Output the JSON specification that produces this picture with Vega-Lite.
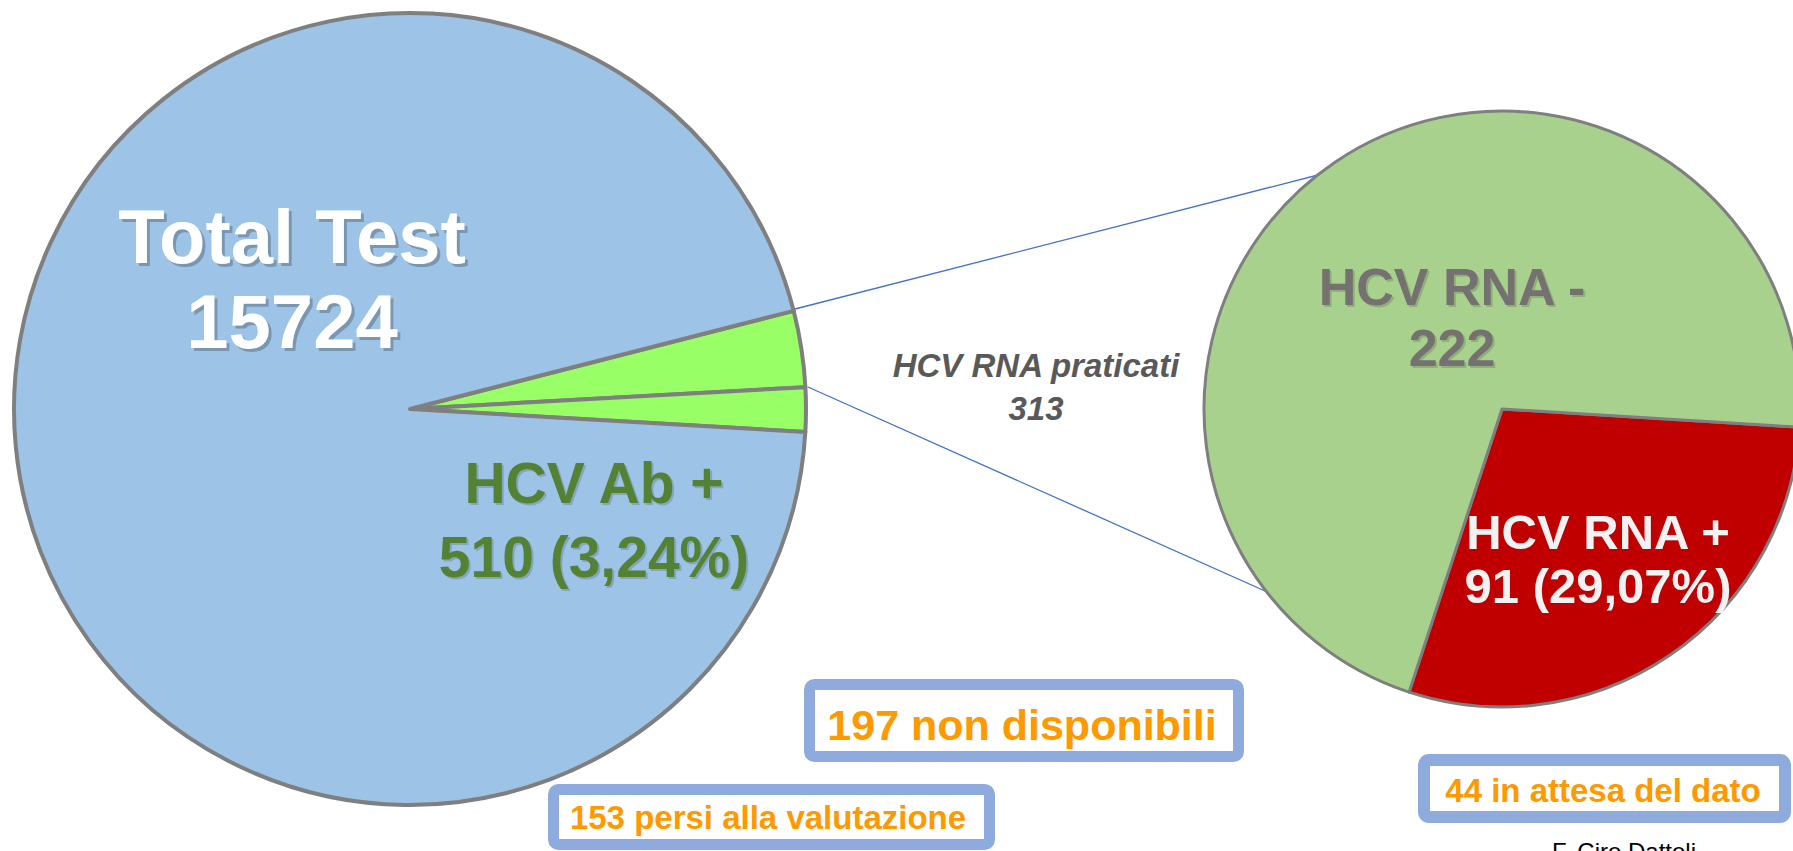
{
  "$schema": "https://vega.github.io/schema/vega-lite/v6.json",
  "width": 1793,
  "height": 851,
  "autosize": {"type": "fit", "contains": "padding"},
  "padding": 0,
  "background": "white",
  "config": {"view": {"stroke": null}, "axis": {"disable": true}, "text": {"font": "Liberation Sans", "fontWeight": "bold"}},
  "datasets": {
    "screening": [
      {"slice": "HCV RNA praticati", "count": 313, "share": 3.11, "k": 1},
      {"slice": "Non disponibili", "count": 197, "share": 1.8, "k": 2},
      {"slice": "HCV Ab -", "count": 15214, "share": 95.09, "k": 3}
    ],
    "rna": [
      {"slice": "HCV RNA +", "count": 91, "k": 1},
      {"slice": "HCV RNA -", "count": 222, "k": 2}
    ],
    "one": [{}]
  },
  "resolve": {"scale": {"theta": "independent"}},
  "layer": [
    {
      "data": {"name": "one"},
      "mark": {"type": "rule", "color": "#4472C4", "strokeWidth": 1.3},
      "encoding": {
        "x": {"datum": 795, "type": "quantitative", "scale": {"domain": [0, 1793], "nice": false, "zero": false}, "axis": null},
        "y": {"datum": 309, "type": "quantitative", "scale": {"domain": [0, 851], "nice": false, "zero": false, "reverse": true}, "axis": null},
        "x2": {"datum": 1318},
        "y2": {"datum": 175}
      }
    },
    {
      "data": {"name": "one"},
      "mark": {"type": "rule", "color": "#4472C4", "strokeWidth": 1.3},
      "encoding": {
        "x": {"datum": 808, "type": "quantitative"},
        "y": {"datum": 387, "type": "quantitative"},
        "x2": {"datum": 1274},
        "y2": {"datum": 595}
      }
    },
    {
      "data": {"name": "screening"},
      "mark": {"type": "arc", "outerRadius": 396, "stroke": "#7F7F7F", "strokeWidth": 4, "strokeJoin": "round", "clip": true},
      "encoding": {
        "x": {"datum": 410, "type": "quantitative"},
        "y": {"datum": 409, "type": "quantitative"},
        "theta": {"field": "share", "type": "quantitative", "stack": true, "scale": {"range": [1.3203, 7.6035]}},
        "order": {"field": "k", "type": "quantitative"},
        "color": {
          "field": "slice", "type": "nominal", "legend": null,
          "scale": {
            "domain": ["HCV RNA praticati", "Non disponibili", "HCV Ab -", "HCV RNA +", "HCV RNA -"],
            "range": ["#99FF66", "#99FF66", "#9DC3E6", "#C00000", "#A9D18E"]
          }
        }
      }
    },
    {
      "data": {"name": "rna"},
      "mark": {"type": "arc", "outerRadius": 298, "stroke": "#7F7F7F", "strokeWidth": 3, "strokeJoin": "round", "clip": true},
      "encoding": {
        "x": {"datum": 1502, "type": "quantitative"},
        "y": {"datum": 409, "type": "quantitative"},
        "theta": {"field": "count", "type": "quantitative", "stack": true, "scale": {"range": [1.632, 7.9152]}},
        "order": {"field": "k", "type": "quantitative"},
        "color": {"field": "slice", "type": "nominal", "legend": null}
      }
    },
    {
      "data": {"name": "one"},
      "mark": {"type": "rect", "fill": "white", "stroke": "#8FAADC", "strokeWidth": 11, "cornerRadius": 5, "clip": true},
      "encoding": {
        "x": {"datum": 809.5, "type": "quantitative"},
        "x2": {"datum": 1238.5},
        "y": {"datum": 684.5, "type": "quantitative"},
        "y2": {"datum": 756.5}
      }
    },
    {
      "data": {"name": "one"},
      "mark": {"type": "rect", "fill": "white", "stroke": "#8FAADC", "strokeWidth": 11, "cornerRadius": 5, "clip": true},
      "encoding": {
        "x": {"datum": 553.5, "type": "quantitative"},
        "x2": {"datum": 989.5},
        "y": {"datum": 789.5, "type": "quantitative"},
        "y2": {"datum": 844.5}
      }
    },
    {
      "data": {"name": "one"},
      "mark": {"type": "rect", "fill": "white", "stroke": "#8FAADC", "strokeWidth": 12, "cornerRadius": 5, "clip": true},
      "encoding": {
        "x": {"datum": 1424, "type": "quantitative"},
        "x2": {"datum": 1785},
        "y": {"datum": 760, "type": "quantitative"},
        "y2": {"datum": 817}
      }
    },
    {
      "data": {"name": "one"},
      "mark": {"type": "text", "fontSize": 76, "lineHeight": 85, "align": "center", "baseline": "alphabetic", "color": "#000000", "opacity": 0.22, "dx": 3, "dy": 3},
      "encoding": {"x": {"datum": 292, "type": "quantitative"}, "y": {"datum": 263, "type": "quantitative"}, "text": {"value": ["Total Test", "15724"]}}
    },
    {
      "data": {"name": "one"},
      "mark": {"type": "text", "fontSize": 76, "lineHeight": 85, "align": "center", "baseline": "alphabetic", "color": "#FFFFFF"},
      "encoding": {"x": {"datum": 292, "type": "quantitative"}, "y": {"datum": 263, "type": "quantitative"}, "text": {"value": ["Total Test", "15724"]}}
    },
    {
      "data": {"name": "one"},
      "mark": {"type": "text", "fontSize": 57, "lineHeight": 74, "align": "center", "baseline": "alphabetic", "color": "#000000", "opacity": 0.15, "dx": 2, "dy": 2},
      "encoding": {"x": {"datum": 594, "type": "quantitative"}, "y": {"datum": 503, "type": "quantitative"}, "text": {"value": ["HCV Ab +", "510 (3,24%)"]}}
    },
    {
      "data": {"name": "one"},
      "mark": {"type": "text", "fontSize": 57, "lineHeight": 74, "align": "center", "baseline": "alphabetic", "color": "#548235"},
      "encoding": {"x": {"datum": 594, "type": "quantitative"}, "y": {"datum": 503, "type": "quantitative"}, "text": {"value": ["HCV Ab +", "510 (3,24%)"]}}
    },
    {
      "data": {"name": "one"},
      "mark": {"type": "text", "fontSize": 33, "lineHeight": 43, "align": "center", "baseline": "alphabetic", "fontStyle": "italic", "color": "#595959"},
      "encoding": {"x": {"datum": 1036, "type": "quantitative"}, "y": {"datum": 377, "type": "quantitative"}, "text": {"value": ["HCV RNA praticati", "313"]}}
    },
    {
      "data": {"name": "one"},
      "mark": {"type": "text", "fontSize": 52, "lineHeight": 61, "align": "center", "baseline": "alphabetic", "color": "#000000", "opacity": 0.15, "dx": 2, "dy": 2},
      "encoding": {"x": {"datum": 1452, "type": "quantitative"}, "y": {"datum": 305, "type": "quantitative"}, "text": {"value": ["HCV RNA -", "222"]}}
    },
    {
      "data": {"name": "one"},
      "mark": {"type": "text", "fontSize": 52, "lineHeight": 61, "align": "center", "baseline": "alphabetic", "color": "#767171"},
      "encoding": {"x": {"datum": 1452, "type": "quantitative"}, "y": {"datum": 305, "type": "quantitative"}, "text": {"value": ["HCV RNA -", "222"]}}
    },
    {
      "data": {"name": "one"},
      "mark": {"type": "text", "fontSize": 49, "lineHeight": 54, "align": "center", "baseline": "alphabetic", "color": "#F2F2F2"},
      "encoding": {"x": {"datum": 1598, "type": "quantitative"}, "y": {"datum": 549, "type": "quantitative"}, "text": {"value": ["HCV RNA +", "91 (29,07%)"]}}
    },
    {
      "data": {"name": "one"},
      "mark": {"type": "text", "fontSize": 43, "align": "center", "baseline": "alphabetic", "color": "#FF9900"},
      "encoding": {"x": {"datum": 1022, "type": "quantitative"}, "y": {"datum": 740, "type": "quantitative"}, "text": {"value": "197 non disponibili"}}
    },
    {
      "data": {"name": "one"},
      "mark": {"type": "text", "fontSize": 33, "align": "center", "baseline": "alphabetic", "color": "#FF9900"},
      "encoding": {"x": {"datum": 768, "type": "quantitative"}, "y": {"datum": 829, "type": "quantitative"}, "text": {"value": "153 persi alla valutazione"}}
    },
    {
      "data": {"name": "one"},
      "mark": {"type": "text", "fontSize": 33, "align": "center", "baseline": "alphabetic", "color": "#FF9900"},
      "encoding": {"x": {"datum": 1603, "type": "quantitative"}, "y": {"datum": 802, "type": "quantitative"}, "text": {"value": "44  in attesa del dato"}}
    },
    {
      "data": {"name": "one"},
      "mark": {"type": "text", "fontSize": 24, "fontWeight": "normal", "align": "left", "baseline": "top", "color": "#000000", "clip": true},
      "encoding": {"x": {"datum": 1552, "type": "quantitative"}, "y": {"datum": 841, "type": "quantitative"}, "text": {"value": "F. Ciro Dattoli"}}
    }
  ]
}
